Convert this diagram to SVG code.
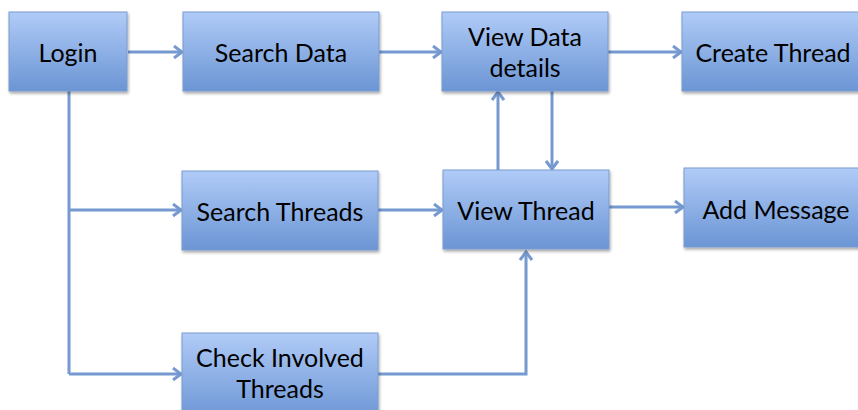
<svg xmlns="http://www.w3.org/2000/svg" width="858" height="410" viewBox="0 0 858 410">
<defs>
<linearGradient id="g" x1="0" y1="0" x2="0" y2="1">
<stop offset="0" stop-color="#b0cbf7"/>
<stop offset="1" stop-color="#6b95d4"/>
</linearGradient>
<filter id="sh" x="-10%" y="-10%" width="130%" height="130%">
<feGaussianBlur in="SourceAlpha" stdDeviation="1.5"/>
<feOffset dx="1" dy="2" result="b"/>
<feComponentTransfer><feFuncA type="linear" slope="0.35"/></feComponentTransfer>
<feMerge><feMergeNode/><feMergeNode in="SourceGraphic"/></feMerge>
</filter>
<marker id="ah" markerWidth="12" markerHeight="14" refX="10" refY="7" orient="auto" markerUnits="userSpaceOnUse">
<path d="M2,1 L10,7 L2,13" fill="none" stroke="#7599d0" stroke-width="3"/>
</marker>
</defs>
<style>
.box{fill:url(#g);stroke:#7b9bd0;stroke-width:1;filter:url(#sh)}
.t{font-family:Lato,"Open Sans","Liberation Sans",sans-serif;font-size:25px;fill:#000;text-anchor:middle}
.c{fill:none;stroke:#7599d0;stroke-width:3;marker-end:url(#ah)}
.l{fill:none;stroke:#7599d0;stroke-width:3}
</style>
<g id="connectors">
<path class="c" d="M128,52 H182"/>
<path class="c" d="M379,52 H441"/>
<path class="c" d="M608,52 H681"/>
<path class="l" d="M69,91 V374"/>
<path class="c" d="M69,210 H181"/>
<path class="c" d="M69,374 H181"/>
<path class="c" d="M378,210 H442"/>
<path class="c" d="M609,207 H683"/>
<path class="c" d="M498,170 V92"/>
<path class="c" d="M552,91 V169"/>
<path class="c" d="M378,374 H526 V252"/>
</g>
<g id="login"><rect class="box" x="9" y="12" width="118" height="79"/><text class="t" x="68" y="62">Login</text></g>
<g id="search-data"><rect class="box" x="183" y="12" width="196" height="79"/><text class="t" x="281" y="62">Search Data</text></g>
<g id="view-data-details"><rect class="box" x="442" y="12" width="166" height="79"/><text class="t" x="525" y="46">View Data</text><text class="t" x="525" y="77">details</text></g>
<g id="create-thread"><rect class="box" x="682" y="12" width="190" height="79"/><text class="t" x="773" y="62">Create Thread</text></g>
<g id="search-threads"><rect class="box" x="182" y="171" width="196" height="79"/><text class="t" x="280" y="221">Search Threads</text></g>
<g id="view-thread"><rect class="box" x="443" y="170" width="166" height="79"/><text class="t" x="526" y="220">View Thread</text></g>
<g id="add-message"><rect class="box" x="684" y="168" width="190" height="79"/><text class="t" x="776" y="219">Add Message</text></g>
<g id="check-involved-threads"><rect class="box" x="182" y="333" width="196" height="87"/><text class="t" x="280" y="367">Check Involved</text><text class="t" x="280" y="398">Threads</text></g>
</svg>
